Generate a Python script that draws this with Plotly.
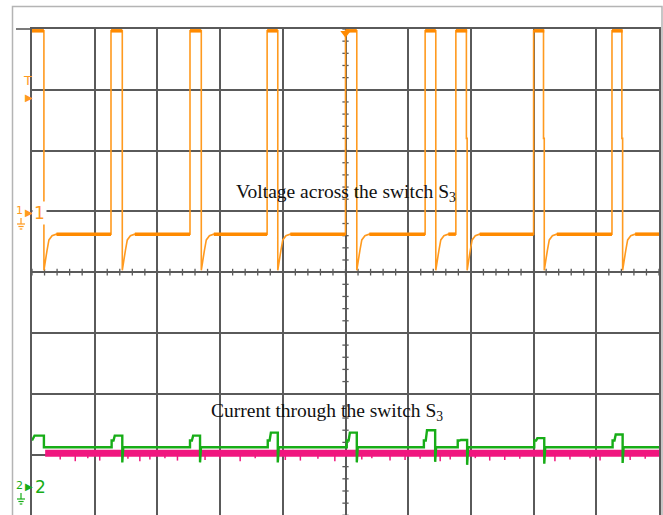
import numpy as np
import plotly.graph_objects as go

# ---------------- data (in screen divisions; x centre = 0, y centre = 0) ----------------
# Channel 1: voltage across switch S3 (orange)
v_rise = [-5.00, -3.74, -2.48, -1.25, 0.00, 1.27, 1.76, 3.00, 4.25]
v_fall = [-4.81, -3.56, -2.30, -1.08, 0.18, 1.44, 1.94, 3.17, 4.42]
v_glitch = [False, False, False, False, False, False, True, True, True]
v_high = 3.97
v_low = 0.625
v_glitch_level = 2.20
# ring-down after each turn-off edge (offset in div, level in div)
rec_dt = [0.00, 0.02, 0.05, 0.08, 0.13, 0.20]
rec_y = [0.03, 0.20, 0.36, 0.53, 0.60, 0.625]

# Channel 2: current through switch S3 (green)
i_rise = [-5.00, -3.73, -2.48, -1.24, 0.02, 1.25, 1.79, 3.01, 4.26]
i_fall = [-4.81, -3.56, -2.32, -1.08, 0.18, 1.43, 1.94, 3.17, 4.42]
i_top = [-2.69, -2.69, -2.69, -2.64, -2.64, -2.60, -2.76, -2.73, -2.67]
i_under = [-2.88, -3.13, -3.13, -3.13, -3.13, -3.12, -3.17, -3.15, -3.14]
i_base = -2.88
i_step = -2.77

# Pink noisy trace
p_start = -4.79
p_level = -2.98
p_spike_x = [-4.55, -4.31, -4.11, -3.92, -3.47, -3.28, -3.12, -2.88, -2.68, -2.24,
             -2.00, -1.68, -1.44, -0.96, -0.72, -0.44, -0.17, 0.26, 0.42, 0.71,
             0.95, 1.19, 1.51, 1.67, 2.07, 2.30, 2.54, 2.78, 3.34, 3.58,
             3.90, 4.06, 4.54, 4.78]
p_spike_y = [-3.08, -3.11, -3.06, -3.10, -3.07, -3.11, -3.08, -3.06, -3.10, -3.09,
             -3.07, -3.11, -3.06, -3.09, -3.10, -3.07, -3.11, -3.08, -3.06, -3.10,
             -3.09, -3.07, -3.11, -3.08, -3.06, -3.10, -3.09, -3.07, -3.11, -3.08,
             -3.06, -3.10, -3.09, -3.07]

labels = {
    "v": "Voltage across the switch S<sub>3</sub>",
    "i": "Current through the switch S<sub>3</sub>",
}

# ---------------- geometry ----------------
W, H = 663, 515
ML, MR, MT, MB = 32, 4, 29, 0
PW, PH = W - ML - MR, H - MT - MB
GRID = "#5a5a5a"
ORANGE = "#FF9A1F"
ORANGE_D = "#FF8A00"
GREEN = "#17AD17"
PINK = "#F0167F"


def px(xp):
    return (xp - ML) / PW


def py(yp):
    return (H - MB - yp) / PH


# ---------------- build waveforms ----------------
vx, vy = [], []
thick_x, thick_y = [], []
for k, (r, f) in enumerate(zip(v_rise, v_fall)):
    if k == 0:
        vx += [r]
        vy += [v_high]
    else:
        vx += [r, r]
        vy += [v_low, v_high]
    if v_glitch[k]:
        vx += [f - 0.012, f - 0.012, f]
        vy += [v_high, v_glitch_level, v_glitch_level]
    else:
        vx += [f]
        vy += [v_high]
    vx += [f + d for d in rec_dt]
    vy += rec_y
    thick_x += [r, f, None]
    thick_y += [v_high, v_high, None]
    nxt = v_rise[k + 1] if k + 1 < len(v_rise) else 5.0
    thick_x += [f + rec_dt[-1], nxt, None]
    thick_y += [v_low, v_low, None]
vx += [5.0]
vy += [v_low]

gx, gy = [], []
for k, (r, f) in enumerate(zip(i_rise, i_fall)):
    if k == 0:
        gx += [r, r + 0.04]
        gy += [i_step, i_top[k]]
    else:
        gx += [r, r, r + 0.03, r + 0.05]
        gy += [i_base, i_step, i_step, i_top[k]]
    gx += [f, f, f + 0.015]
    gy += [i_top[k], i_under[k], i_base]
gx += [5.0]
gy += [i_base]

sx, sy = [], []
for x, y in zip(p_spike_x, p_spike_y):
    sx += [x, x, None]
    sy += [p_level, y, None]

# centre cross minor ticks
tx, ty = [], []
for t in np.arange(-5, 5.001, 0.2):
    tx += [t, t, None]
    ty += [-0.055, 0.055, None]
for t in np.arange(-4, 4.001, 0.2):
    tx += [-0.05, 0.05, None]
    ty += [t, t, None]

fig = go.Figure()
fig.add_trace(go.Scatter(x=tx, y=ty, mode="lines", line=dict(color=GRID, width=1.3),
                         hoverinfo="skip", showlegend=False))
fig.add_trace(go.Scatter(x=[p_start, 5.0], y=[p_level, p_level], mode="lines",
                         line=dict(color=PINK, width=7), showlegend=False))
fig.add_trace(go.Scatter(x=sx, y=sy, mode="lines", line=dict(color=PINK, width=1.5),
                         showlegend=False))
fig.add_trace(go.Scatter(x=gx, y=gy, mode="lines", line=dict(color=GREEN, width=2.4),
                         showlegend=False))
fig.add_trace(go.Scatter(x=vx, y=vy, mode="lines", line=dict(color=ORANGE, width=1.6),
                         showlegend=False))
fig.add_trace(go.Scatter(x=thick_x, y=thick_y, mode="lines",
                         line=dict(color=ORANGE_D, width=3.5), showlegend=False))
fig.add_trace(go.Scatter(x=[0.0], y=[3.93], mode="markers",
                         marker=dict(symbol="triangle-down", size=9, color=ORANGE_D),
                         cliponaxis=False, showlegend=False))

# ---------------- layout ----------------
fig.update_layout(
    width=W, height=H,
    margin=dict(l=ML, r=MR, t=MT, b=MB, pad=0),
    paper_bgcolor="white", plot_bgcolor="white",
    showlegend=False,
    xaxis=dict(range=[-5, 5], dtick=1, tick0=0, showgrid=True, gridcolor=GRID,
               gridwidth=1.6, zeroline=False, showticklabels=False, ticks="",
               showline=True, linecolor=GRID, linewidth=1.6, side="top", mirror=False,
               fixedrange=True),
    yaxis=dict(range=[-3.995, 4.0], dtick=1, tick0=0, showgrid=True, gridcolor=GRID,
               gridwidth=1.6, zeroline=False, showticklabels=False, ticks="",
               showline=True, linecolor=GRID, linewidth=1.6, mirror=True,
               fixedrange=True),
)

shapes = [
    # outer light frame
    dict(type="rect", xref="paper", yref="paper", x0=px(12.5), x1=px(662), y0=py(520),
         y1=py(6.5), line=dict(color="#b4b4b4", width=1.5), layer="below"),
    # top grid line extension
    dict(type="line", xref="paper", yref="paper", x0=px(16), x1=px(32), y0=py(29),
         y1=py(29), line=dict(color=GRID, width=1.6)),
]


def ground(xc, ytop, color):
    return [
        dict(type="line", xref="paper", yref="paper", x0=px(xc), x1=px(xc), y0=py(ytop),
             y1=py(ytop + 6), line=dict(color=color, width=1.2)),
        dict(type="line", xref="paper", yref="paper", x0=px(xc - 4), x1=px(xc + 4),
             y0=py(ytop + 6), y1=py(ytop + 6), line=dict(color=color, width=1.2)),
        dict(type="line", xref="paper", yref="paper", x0=px(xc - 2.6), x1=px(xc + 2.6),
             y0=py(ytop + 8.5), y1=py(ytop + 8.5), line=dict(color=color, width=1.2)),
        dict(type="line", xref="paper", yref="paper", x0=px(xc - 1.3), x1=px(xc + 1.3),
             y0=py(ytop + 11), y1=py(ytop + 11), line=dict(color=color, width=1.2)),
    ]


shapes += ground(21, 218, ORANGE)
shapes += ground(21, 493, GREEN)
fig.update_layout(shapes=shapes)

ann = []


def txt(xp, yp, s, size, color, family="DejaVu Sans", bg=None):
    d = dict(x=px(xp), y=py(yp), xref="paper", yref="paper", text=s, showarrow=False,
             font=dict(size=size, color=color, family=family), xanchor="center",
             yanchor="middle")
    if bg:
        d["bgcolor"] = bg
    ann.append(d)


txt(27, 80, "T", 13, ORANGE)
txt(28.5, 97, "▶", 10, ORANGE)
txt(19, 211, "1", 11, ORANGE)
txt(28.5, 212, "▶", 10, ORANGE)
txt(39, 213, "1", 17, ORANGE, bg="white")
txt(19, 485, "2", 11, GREEN)
txt(28.5, 486, "▶", 10, GREEN)
txt(40, 487, "2", 17, GREEN, bg="white")

ann.append(dict(x=0.0, y=1.30, xref="x", yref="y", text=labels["v"], showarrow=False,
                font=dict(size=19.5, color="#111111", family="Liberation Serif"),
                xanchor="center", yanchor="middle"))
ann.append(dict(x=-0.30, y=-2.30, xref="x", yref="y", text=labels["i"], showarrow=False,
                font=dict(size=19.5, color="#111111", family="Liberation Serif"),
                xanchor="center", yanchor="middle"))
fig.update_layout(annotations=ann)

fig.write_html(
    "out.html",
    config={"displayModeBar": False},
    post_script="document.body.style.margin='0';document.body.style.overflow='hidden';",
)
